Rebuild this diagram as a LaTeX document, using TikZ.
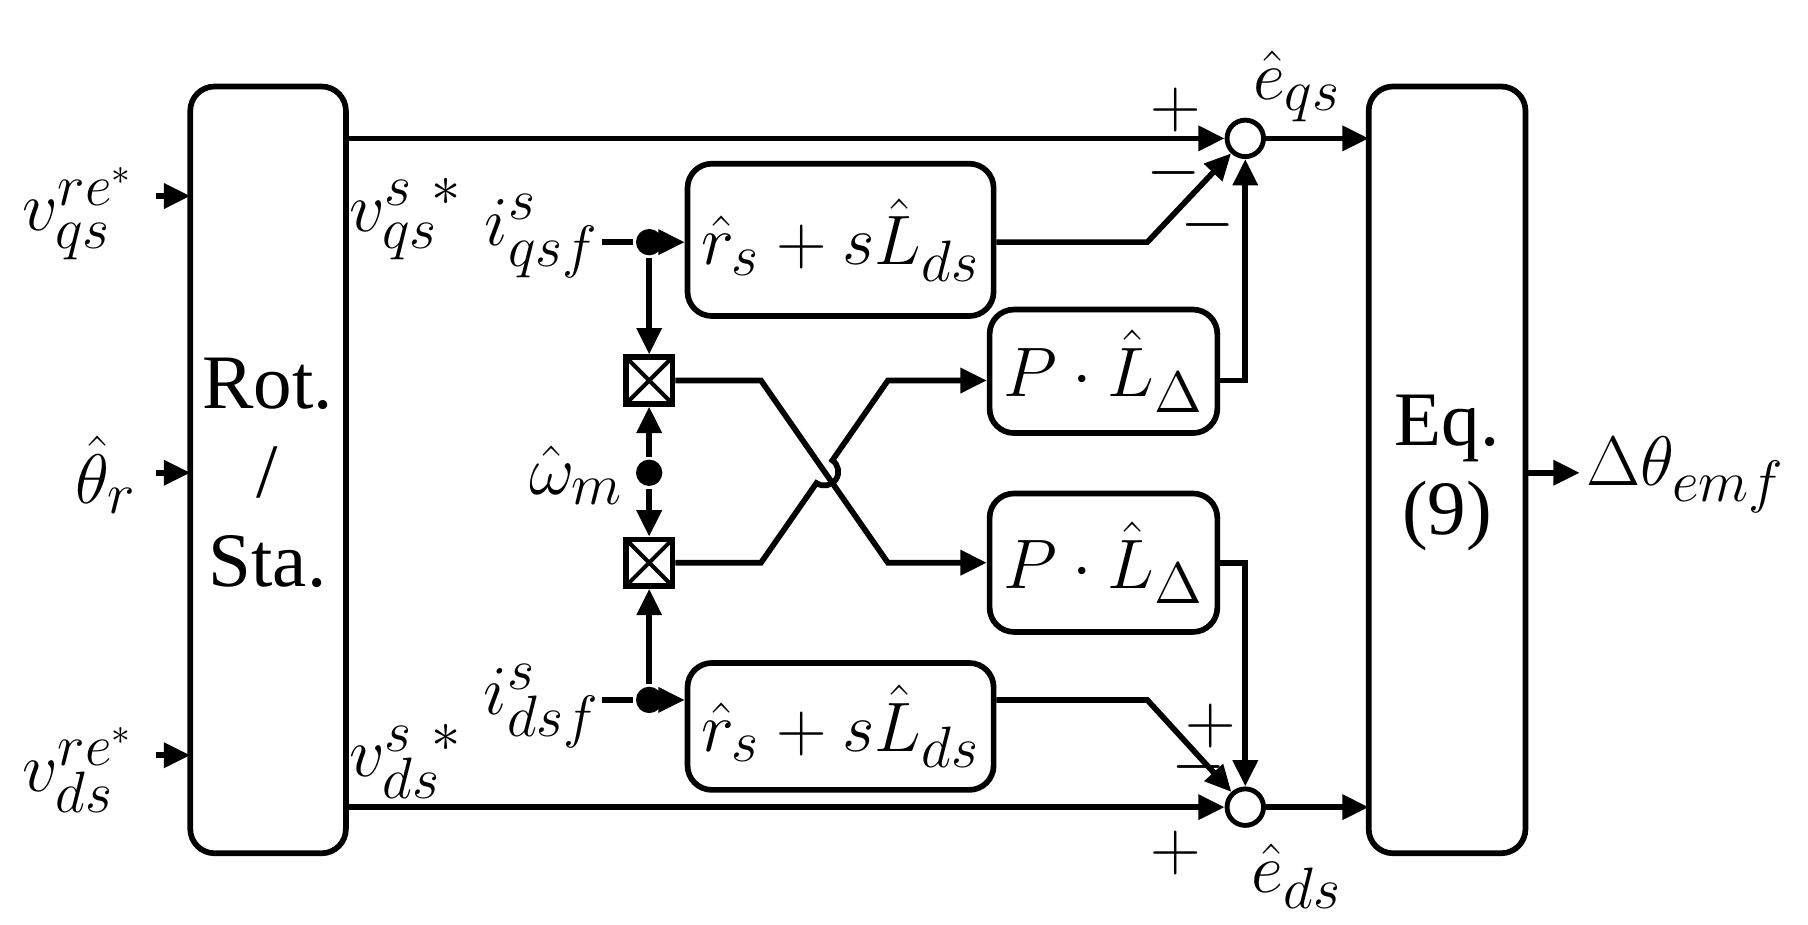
\documentclass[tikz,border=0pt]{standalone}
\usepackage{fontspec}
\setmainfont{Liberation Serif}
\usetikzlibrary{arrows.meta}
\begin{document}
\begin{tikzpicture}[x=0.01cm,y=-0.01cm,line width=1.4pt,
  >={Triangle[length=6.5pt,width=6pt]},
  box/.style={draw,rounded corners=6pt},
  lab/.style={font=\fontsize{19}{22}\selectfont},
  dot/.style={circle,fill,inner sep=0pt,minimum size=6.5pt},
  sumc/.style={circle,draw,fill=white,inner sep=0pt,minimum size=9pt,line width=1.2pt},
  mul/.style={draw,fill=white,minimum size=11.5pt,inner sep=0pt,path picture={
    \draw[line width=1pt] (path picture bounding box.north west)--(path picture bounding box.south east)
    (path picture bounding box.north east)--(path picture bounding box.south west);}}]
\useasboundingbox (0,0) rectangle (1568,802);
\draw[box] (165,75) rectangle (300,740);
\node[lab,align=center] (rot) at (232,410) {Rot.\\/\\Sta.};
\draw[box] (1187,75) rectangle (1323,740);
\node[lab,align=center] (eq) at (1255,410) {Eq.\\(9)};
\coordinate (rotE1) at (300,120); \coordinate (rotE2) at (300,700);
\node[sumc] (s1) at (1080,120) {};
\node[sumc] (s2) at (1080,700) {};
\node[box,minimum width=2.52cm,minimum height=1.32cm,lab] (r1) at (729,208) {$\hat r_s + s\hat L_{ds}$};
\node[box,minimum width=2.52cm,minimum height=1.10cm,lab] (r2) at (729,630) {$\hat r_s + s\hat L_{ds}$};
\node[box,minimum width=1.95cm,minimum height=1.07cm,lab] (p1) at (957,322) {$P\cdot\hat L_\Delta$};
\node[box,minimum width=1.95cm,minimum height=1.2cm,lab] (p2) at (957,488) {$P\cdot\hat L_\Delta$};
\node[mul] (m1) at (563,330) {};
\node[mul] (m2) at (563,488) {};
\node[dot] (d1) at (563,210) {};
\node[dot] (dw) at (563,410) {};
\node[dot] (d2) at (563,607) {};
% inputs
\coordinate (i1) at (135,170); \coordinate (i2) at (135,410); \coordinate (i3) at (135,655);
\draw[->] (i1) -- (165,170);
\draw[->] (i2) -- (165,410);
\draw[->] (i3) -- (165,655);
\node[lab] at (68,185) {$v_{qs}^{re^*}$};
\node[lab] at (92,412) {$\hat\theta_r$};
\node[lab] at (68,668) {$v_{ds}^{re^*}$};
\coordinate (o1) at (1370,410);
\draw[->] (1323,410) -- (o1);
\node[lab] at (1462,412) {$\Delta\theta_{emf}$};
% main lines
\draw[->] (rotE1) -- (s1);
\draw[->] (rotE2) -- (s2);
\draw[->] (s1) -- (1187,120);
\draw[->] (s2) -- (1187,700);
\node[lab] at (352,190) {$v_{qs}^{s\,\,*}$};
\node[lab] at (352,660) {$v_{ds}^{s\,\,*}$};
\node[lab] at (470,205) {$i_{qsf}^{s}$};
\node[lab] at (470,612) {$i_{dsf}^{s}$};
\node[lab] at (500,412) {$\hat\omega_m$};
\coordinate (a1) at (522,210); \coordinate (a2) at (522,607);
\draw (a1) -- (d1); \draw (a2) -- (d2);
\draw[->] (d1) -- (r1.west|-d1);
\draw[->] (d2) -- (r2.west|-d2);
\draw[->] (d1) -- (m1);
\draw[->] (dw) -- (m1);
\draw[->] (dw) -- (m2);
\draw[->] (d2) -- (m2);
% crossing
\draw[->] (m1) -- (660,330) -- (770,488) -- (p2.west|-0,488);
\draw[->] (m2) -- (660,488) -- (708.1,418.9) arc[start angle=235,end angle=415,radius=0.12cm] -- (770,330) -- (p1.west|-0,330);
% outputs
\draw[->] (p1.east|-0,330) -- (1080,330) -- (s1);
\draw[->] (p2.east|-0,488) -- (1080,488) -- (s2);
\draw[->] (r1.east|-0,210) -- (995,210) -- (s1);
\draw[->] (r2.east|-0,607) -- (995,607) -- (s2);
% signs
\node[lab] at (1020,95) {$+$};
\node[lab] at (1018,150) {$-$};
\node[lab] at (1047,195) {$-$};
\node[lab] at (1050,630) {$+$};
\node[lab] at (1040,665) {$-$};
\node[lab] at (1020,740) {$+$};
\node[lab] at (1125,75) {$\hat e_{qs}$};
\node[lab] at (1125,760) {$\hat e_{ds}$};
\end{tikzpicture}
\end{document}
